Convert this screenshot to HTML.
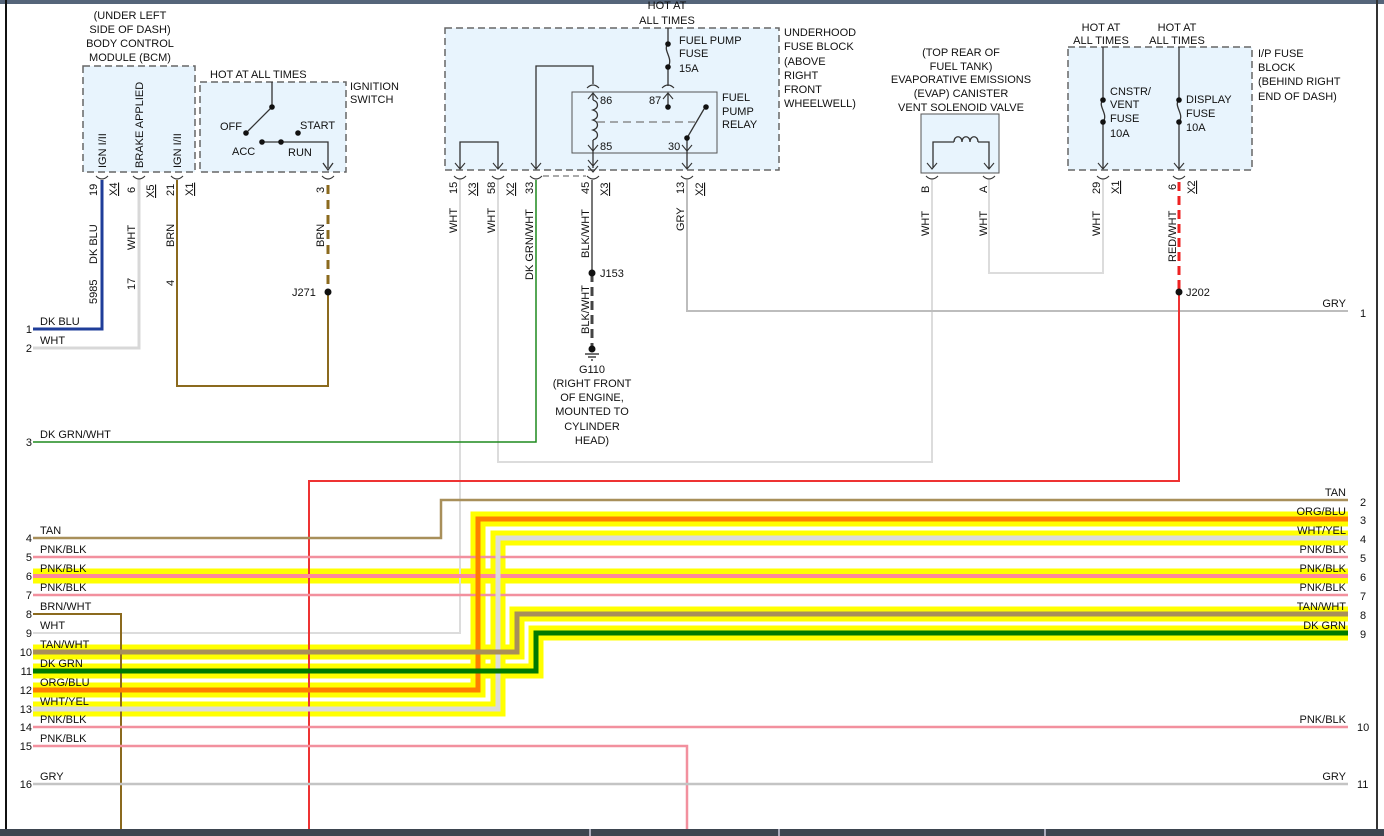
<!DOCTYPE html>
<html><head><meta charset="utf-8"><style>
html,body{margin:0;padding:0;background:#fff;}
svg{display:block;font-family:"Liberation Sans",Arial,sans-serif;font-size:11px;fill:#111;}
</style></head><body>
<svg width="1384" height="836" viewBox="0 0 1384 836" xmlns="http://www.w3.org/2000/svg">
<rect x="0" y="0" width="1384" height="836" fill="#fff"/>
<rect x="0" y="0" width="1384" height="4" fill="#55657a"/>
<rect x="5" y="0" width="2" height="829" fill="#111"/>
<rect x="1376" y="0" width="2" height="829" fill="#333"/>
<rect x="0" y="829" width="1384" height="7" fill="#3d4550"/>
<g fill="#aab">
<rect x="589" y="829" width="2" height="7"/><rect x="778" y="829" width="2" height="7"/><rect x="1044" y="829" width="2" height="7"/>
</g>

<!-- component boxes -->
<g stroke="#666" stroke-width="1.5" stroke-dasharray="7,4" fill="#e8f4fd">
<rect x="83" y="66" width="112" height="106"/>
<rect x="200" y="82" width="146" height="90"/>
<rect x="445" y="28" width="334" height="142"/>
<rect x="1068" y="47" width="184" height="123"/>
</g>
<rect x="921" y="114" width="78" height="59" fill="#e8f4fd" stroke="#555" stroke-width="1"/>
<rect x="572" y="92" width="145" height="61" fill="#e8f4fd" stroke="#555" stroke-width="1"/>

<!-- yellow highlights -->
<g fill="none" stroke="#ffff00" stroke-width="15" stroke-linejoin="miter">
<polyline points="1348,519 478,519 478,690 33,690"/>
<polyline points="1348,538 498,538 498,709 33,709"/>
<polyline points="1348,576 33,576"/>
<polyline points="1348,614 517,614 517,652 33,652"/>
<polyline points="1348,633 536,633 536,671 33,671"/>
</g>

<!-- wires -->
<g fill="none" stroke-linejoin="miter">
<polyline points="102,180 102,329 33,329" stroke="#1f3d99" stroke-width="3"/>
<polyline points="139,180 139,348 33,348" stroke="#d8d8d8" stroke-width="3"/>
<polyline points="177,180 177,386 328,386 328,292" stroke="#8b6a1e" stroke-width="2"/>
<line x1="328" y1="185" x2="328" y2="292" stroke="#8b6a1e" stroke-width="3" stroke-dasharray="9,6"/>
<polyline points="460,180 460,633 33,633" stroke="#dcdcdc" stroke-width="2"/>
<polyline points="498,180 498,462 932,462 932,180" stroke="#dcdcdc" stroke-width="2"/>
<polyline points="536,180 536,442 33,442" stroke="#1f8a1f" stroke-width="1.5"/>
<line x1="592" y1="180" x2="592" y2="273" stroke="#777" stroke-width="2"/>
<line x1="592" y1="273" x2="592" y2="348" stroke="#444" stroke-width="3" stroke-dasharray="9,5"/>
<polyline points="687,180 687,311 1348,311" stroke="#bdbdbd" stroke-width="2"/>
<polyline points="989,180 989,273 1103,273 1103,180" stroke="#dcdcdc" stroke-width="2"/>
<line x1="1179" y1="182" x2="1179" y2="290" stroke="#ee2222" stroke-width="3" stroke-dasharray="9,5"/>
<polyline points="1179,292 1179,481 309,481 309,829" stroke="#ee3333" stroke-width="2"/>
<polyline points="1348,500 441,500 441,538 33,538" stroke="#a88f5a" stroke-width="2.5"/>
<line x1="33" y1="557" x2="1348" y2="557" stroke="#f2909e" stroke-width="2.5"/>
<line x1="33" y1="576" x2="1348" y2="576" stroke="#ff8899" stroke-width="4"/>
<line x1="33" y1="595" x2="1348" y2="595" stroke="#f2909e" stroke-width="2.5"/>
<polyline points="33,614 121,614 121,829" stroke="#8b6a1e" stroke-width="2"/>
<line x1="33" y1="727" x2="1348" y2="727" stroke="#f2909e" stroke-width="2.5"/>
<polyline points="33,746 687,746 687,829" stroke="#f2909e" stroke-width="2.5"/>
<line x1="33" y1="784" x2="1348" y2="784" stroke="#c4c4c4" stroke-width="2.5"/>
<polyline points="1348,519 478,519 478,690 33,690" stroke="#ff7f00" stroke-width="5"/>
<polyline points="1348,538 498,538 498,709 33,709" stroke="#dcdcdc" stroke-width="5"/>
<polyline points="1348,614 517,614 517,652 33,652" stroke="#a88f5a" stroke-width="5"/>
<polyline points="1348,633 536,633 536,671 33,671" stroke="#007a00" stroke-width="5"/>
</g>

<!-- internal wiring -->
<g fill="none" stroke="#333" stroke-width="1.3">
<polyline points="272,82 272,107 248,131"/>
<polyline points="262,142 328,142 328,168"/>
<polyline points="323,163 328,170 333,163"/>
<line x1="668" y1="28" x2="668" y2="44"/>
<path d="M668,44 C662,50 674,58 668,67"/>
<line x1="668" y1="67" x2="668" y2="86"/>
<polyline points="536,168 536,66 593,66 593,84"/>
<polyline points="460,168 460,142 498,142 498,168"/>
<line x1="593" y1="94" x2="593" y2="100"/>
<path d="M593,100 c6,2 6,8 0,10 c6,2 6,8 0,10 c6,2 6,8 0,10 c6,2 6,8 0,10"/>
<line x1="593" y1="140" x2="593" y2="168"/>
<line x1="597" y1="122" x2="695" y2="122" stroke-dasharray="8,5" stroke="#777"/>
<line x1="668" y1="94" x2="668" y2="107"/>
<line x1="687" y1="138" x2="704" y2="109"/>
<line x1="687" y1="138" x2="687" y2="168"/>
<polyline points="933,168 933,142 954,142"/>
<path d="M954,142 c0,-7 8,-7 8,0 c0,-7 8,-7 8,0 c0,-7 8,-7 8,0"/>
<polyline points="978,142 989,142 989,168"/>
<line x1="1103" y1="47" x2="1103" y2="100"/><path d="M1103,100 C1097,106 1109,114 1103,122"/><line x1="1103" y1="122" x2="1103" y2="168"/>
<line x1="1179" y1="47" x2="1179" y2="100"/><path d="M1179,100 C1173,106 1185,114 1179,122"/><line x1="1179" y1="122" x2="1179" y2="168"/>
<!-- arrowheads -->
<g stroke-width="1.1">
<polyline points="455,163 460,169 465,163"/><polyline points="493,163 498,169 503,163"/><polyline points="531,163 536,169 541,163"/>
<polyline points="588,99 593,93 598,99"/><polyline points="588,145 593,151 598,145"/><polyline points="588,160 593,166 598,160"/><polyline points="588,166 593,172 598,166"/>
<polyline points="663,99 668,93 673,99"/><polyline points="682,145 687,151 692,145"/><polyline points="682,163 687,169 692,163"/>
<polyline points="927,163 932,169 937,163"/><polyline points="984,163 989,169 994,163"/>
<polyline points="1098,163 1103,169 1108,163"/><polyline points="1174,163 1179,169 1184,163"/>
<!-- connector cups -->
<path d="M96,176 q6,6 12,0"/><path d="M133,176 q6,6 12,0"/><path d="M171,176 q6,6 12,0"/><path d="M322,176 q6,6 12,0"/>
<path d="M454,176 q6,6 12,0"/><path d="M492,176 q6,6 12,0"/><path d="M530,176 q6,6 12,0"/><path d="M587,176 q6,6 12,0"/><path d="M681,176 q6,6 12,0"/>
<path d="M587,88 q6,-6 12,0"/><path d="M662,88 q6,-6 12,0"/>
<path d="M926,176 q6,6 12,0"/><path d="M983,176 q6,6 12,0"/><path d="M1097,176 q6,6 12,0"/><path d="M1173,176 q6,6 12,0"/>
</g>
<line x1="543" y1="176" x2="586" y2="176" stroke="#777" stroke-dasharray="6,4"/>
</g>
<g fill="#111">
<circle cx="272" cy="107" r="2.8"/><circle cx="246" cy="133" r="2.8"/><circle cx="298" cy="133" r="2.8"/><circle cx="262" cy="142" r="2.8"/><circle cx="281" cy="142" r="2.8"/>
<circle cx="668" cy="44" r="2.8"/><circle cx="668" cy="67" r="2.8"/><circle cx="668" cy="107" r="2.8"/><circle cx="706" cy="107" r="2.8"/><circle cx="687" cy="138" r="2.8"/>
<circle cx="1103" cy="100" r="2.8"/><circle cx="1103" cy="122" r="2.8"/><circle cx="1179" cy="100" r="2.8"/><circle cx="1179" cy="122" r="2.8"/>
<circle cx="328" cy="292" r="3.5"/><circle cx="592" cy="273" r="3.5"/><circle cx="1179" cy="292" r="3.5"/><circle cx="592" cy="349" r="3.5"/>
</g>
<g stroke="#111" stroke-width="1.2"><line x1="585" y1="354" x2="599" y2="354"/><line x1="588" y1="357" x2="596" y2="357"/><line x1="591" y1="360" x2="593" y2="360"/></g>

<!-- horizontal text -->
<g text-anchor="middle">
<text x="130" y="19">(UNDER LEFT</text><text x="130" y="33">SIDE OF DASH)</text><text x="130" y="47">BODY CONTROL</text><text x="130" y="61">MODULE (BCM)</text>
<text x="667" y="9">HOT AT</text><text x="667" y="24">ALL TIMES</text>
<text x="592" y="373">G110</text><text x="592" y="387">(RIGHT FRONT</text><text x="592" y="401">OF ENGINE,</text><text x="592" y="415">MOUNTED TO</text><text x="592" y="430">CYLINDER</text><text x="592" y="444">HEAD)</text>
<text x="961" y="56">(TOP REAR OF</text><text x="961" y="70">FUEL TANK)</text><text x="961" y="83">EVAPORATIVE EMISSIONS</text><text x="961" y="97">(EVAP) CANISTER</text><text x="961" y="111">VENT SOLENOID VALVE</text>
<text x="1101" y="31">HOT AT</text><text x="1101" y="44">ALL TIMES</text><text x="1177" y="31">HOT AT</text><text x="1177" y="44">ALL TIMES</text>
</g>
<text x="210" y="78">HOT AT ALL TIMES</text>
<text x="350" y="90">IGNITION</text><text x="350" y="103">SWITCH</text>
<text x="220" y="130">OFF</text><text x="300" y="129">START</text><text x="232" y="155">ACC</text><text x="288" y="156">RUN</text>
<text x="784" y="36">UNDERHOOD</text><text x="784" y="50">FUSE BLOCK</text><text x="784" y="65">(ABOVE</text><text x="784" y="79">RIGHT</text><text x="784" y="93">FRONT</text><text x="784" y="107">WHEELWELL)</text>
<text x="679" y="44">FUEL PUMP</text><text x="679" y="57">FUSE</text><text x="679" y="72">15A</text>
<text x="722" y="101">FUEL</text><text x="722" y="115">PUMP</text><text x="722" y="128">RELAY</text>
<text x="600" y="104">86</text><text x="649" y="104">87</text><text x="600" y="150">85</text><text x="668" y="150">30</text>
<text x="1258" y="57">I/P FUSE</text><text x="1258" y="71">BLOCK</text><text x="1258" y="85">(BEHIND RIGHT</text><text x="1258" y="100">END OF DASH)</text>
<text x="1110" y="95">CNSTR/</text><text x="1110" y="108">VENT</text><text x="1110" y="122">FUSE</text><text x="1110" y="137">10A</text>
<text x="1186" y="103">DISPLAY</text><text x="1186" y="117">FUSE</text><text x="1186" y="131">10A</text>
<text x="292" y="296">J271</text><text x="600" y="277">J153</text><text x="1186" y="296">J202</text>

<!-- left row labels -->
<g text-anchor="end">
<text x="32" y="333">1</text><text x="32" y="352">2</text><text x="32" y="446">3</text><text x="32" y="542">4</text><text x="32" y="561">5</text><text x="32" y="580">6</text><text x="32" y="599">7</text><text x="32" y="618">8</text><text x="32" y="637">9</text><text x="32" y="656">10</text><text x="32" y="675">11</text><text x="32" y="694">12</text><text x="32" y="713">13</text><text x="32" y="731">14</text><text x="32" y="750">15</text><text x="32" y="788">16</text>
</g>
<text x="40" y="325">DK BLU</text><text x="40" y="344">WHT</text><text x="40" y="438">DK GRN/WHT</text><text x="40" y="534">TAN</text><text x="40" y="553">PNK/BLK</text><text x="40" y="572">PNK/BLK</text><text x="40" y="591">PNK/BLK</text><text x="40" y="610">BRN/WHT</text><text x="40" y="629">WHT</text><text x="40" y="648">TAN/WHT</text><text x="40" y="667">DK GRN</text><text x="40" y="686">ORG/BLU</text><text x="40" y="705">WHT/YEL</text><text x="40" y="723">PNK/BLK</text><text x="40" y="742">PNK/BLK</text><text x="40" y="780">GRY</text>
<!-- right labels -->
<g text-anchor="end">
<text x="1346" y="307">GRY</text><text x="1346" y="496">TAN</text><text x="1346" y="515">ORG/BLU</text><text x="1346" y="534">WHT/YEL</text><text x="1346" y="553">PNK/BLK</text><text x="1346" y="572">PNK/BLK</text><text x="1346" y="591">PNK/BLK</text><text x="1346" y="610">TAN/WHT</text><text x="1346" y="629">DK GRN</text><text x="1346" y="723">PNK/BLK</text><text x="1346" y="780">GRY</text>
</g>
<g>
<text x="1360" y="317">1</text><text x="1360" y="506">2</text><text x="1360" y="524">3</text><text x="1360" y="543">4</text><text x="1360" y="562">5</text><text x="1360" y="581">6</text><text x="1360" y="600">7</text><text x="1360" y="619">8</text><text x="1360" y="638">9</text><text x="1357" y="731">10</text><text x="1357" y="788">11</text>
</g>

<!-- rotated labels -->
<g>
<text transform="translate(106,168) rotate(-90)">IGN I/II</text>
<text transform="translate(143,168) rotate(-90)">BRAKE APPLIED</text>
<text transform="translate(181,168) rotate(-90)">IGN I/II</text>
<text transform="translate(97,196) rotate(-90)">19</text><text transform="translate(117,196) rotate(-90)" text-decoration="underline">X4</text>
<text transform="translate(135,193) rotate(-90)">6</text><text transform="translate(154,198) rotate(-90)" text-decoration="underline">X5</text>
<text transform="translate(174,196) rotate(-90)">21</text><text transform="translate(193,196) rotate(-90)" text-decoration="underline">X1</text>
<text transform="translate(97,264) rotate(-90)">DK BLU</text><text transform="translate(97,304) rotate(-90)">5985</text>
<text transform="translate(135,250) rotate(-90)">WHT</text><text transform="translate(135,290) rotate(-90)">17</text>
<text transform="translate(174,247) rotate(-90)">BRN</text><text transform="translate(174,286) rotate(-90)">4</text>
<text transform="translate(324,193) rotate(-90)">3</text><text transform="translate(324,247) rotate(-90)">BRN</text>
<text transform="translate(457,194) rotate(-90)">15</text><text transform="translate(476,196) rotate(-90)" text-decoration="underline">X3</text>
<text transform="translate(457,233) rotate(-90)">WHT</text>
<text transform="translate(495,194) rotate(-90)">58</text><text transform="translate(514,196) rotate(-90)" text-decoration="underline">X2</text>
<text transform="translate(495,233) rotate(-90)">WHT</text>
<text transform="translate(533,194) rotate(-90)">33</text><text transform="translate(533,280) rotate(-90)">DK GRN/WHT</text>
<text transform="translate(589,194) rotate(-90)">45</text><text transform="translate(608,196) rotate(-90)" text-decoration="underline">X3</text>
<text transform="translate(589,258) rotate(-90)">BLK/WHT</text>
<text transform="translate(589,334) rotate(-90)">BLK/WHT</text>
<text transform="translate(684,194) rotate(-90)">13</text><text transform="translate(703,196) rotate(-90)" text-decoration="underline">X2</text>
<text transform="translate(684,231) rotate(-90)">GRY</text>
<text transform="translate(929,193) rotate(-90)">B</text><text transform="translate(929,236) rotate(-90)">WHT</text>
<text transform="translate(987,193) rotate(-90)">A</text><text transform="translate(987,236) rotate(-90)">WHT</text>
<text transform="translate(1100,194) rotate(-90)">29</text><text transform="translate(1119,194) rotate(-90)" text-decoration="underline">X1</text>
<text transform="translate(1100,236) rotate(-90)">WHT</text>
<text transform="translate(1176,190) rotate(-90)">6</text><text transform="translate(1195,194) rotate(-90)" text-decoration="underline">X2</text>
<text transform="translate(1176,262) rotate(-90)">RED/WHT</text>
</g>
</svg>
</body></html>
